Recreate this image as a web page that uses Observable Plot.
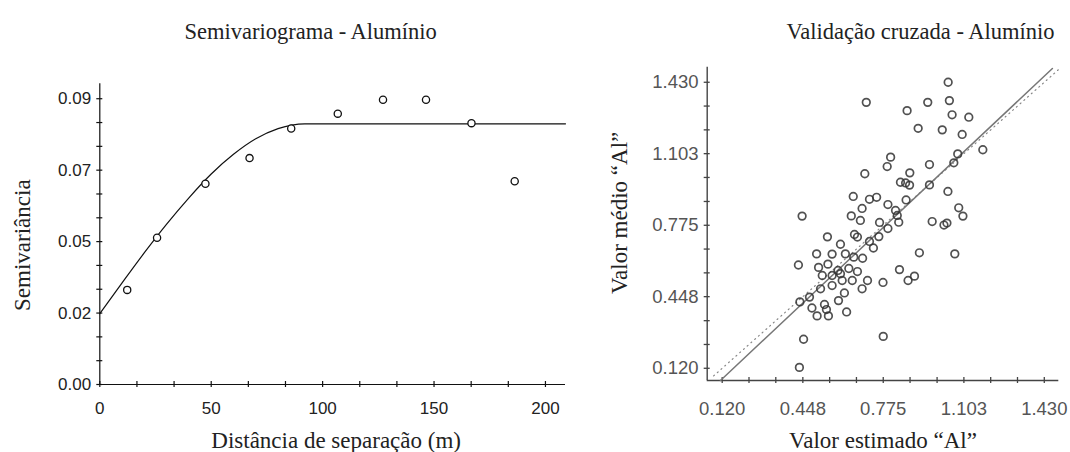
<!DOCTYPE html>
<html>
<head>
<meta charset="utf-8">
<script src="https://cdn.jsdelivr.net/npm/d3@7"></script>
<script src="https://cdn.jsdelivr.net/npm/@observablehq/plot@0.6"></script>
<style>
  html, body { margin: 0; padding: 0; background: #fff; }
  #wrap { position: relative; width: 1070px; height: 452px; background: #fff; overflow: hidden; }
  #left, #right { position: absolute; top: 0; }
  #left { left: 0; }
  #right { left: 600px; }
</style>
</head>
<body>
<div id="wrap"><div id="left"></div><div id="right"></div></div>
<script>
// ---------- Semivariograma (left) ----------
const semiTitle = "Semivariograma - Alumínio";
const semiXTitle = "Distância de separação (m)";
const semiYTitle = "Semivariância";
const semiDist  = [12.3, 25.7, 47.4, 67.2, 85.9, 106.8, 127.1, 146.4, 166.8, 186.2];
const semiGamma = [0.0298, 0.0462, 0.0632, 0.0713, 0.0806, 0.0853, 0.0897, 0.0897, 0.0823, 0.0640];
// fitted model line
const modelDist  = [0, 10, 20, 30, 40, 50, 60, 70, 80, 92, 209];
const modelGamma = [0.0223, 0.0320, 0.0415, 0.0505, 0.0588, 0.0663, 0.0725, 0.0774, 0.0806, 0.0821, 0.0821];
const semiXDomain = [0, 209];
const semiYDomain = [0, 0.0947];
const semiXTicks = [0, 16.667, 33.333, 50, 66.667, 83.333, 100, 116.667, 133.333, 150, 166.667, 183.333, 200];
const semiXLabelTicks = [0, 50, 100, 150, 200];
const semiXLabels = ["0", "50", "100", "150", "200"];
const semiYTicks = [0, 0.0075, 0.015, 0.0225, 0.03, 0.0375, 0.045, 0.0525, 0.06, 0.0675, 0.075, 0.0825, 0.09];
const semiYLabelTicks = [0, 0.0225, 0.045, 0.0675, 0.09];
const semiYLabels = ["0.00", "0.02", "0.05", "0.07", "0.09"];

// ---------- Validação cruzada (right) ----------
const cvTitle = "Validação cruzada - Alumínio";
const cvXTitle = "Valor estimado “Al”";
const cvYTitle = "Valor médio “Al”";
const cvEstimated = [
  0.706, 1.039, 0.956, 1.044, 0.872, 1.055, 1.123, 0.917, 1.015, 1.096,
  1.180, 1.078, 1.062, 0.805, 0.791, 0.963, 0.883, 0.700, 0.845, 0.866,
  0.882, 0.963, 1.038, 0.653, 0.719, 0.748, 0.868, 0.794, 0.689, 0.825,
  0.832, 1.082, 1.099, 0.645, 0.445, 0.682, 0.974, 1.022, 1.034, 0.760,
  0.838, 0.794, 0.757, 0.735, 0.719, 0.658, 0.670, 0.548, 0.601, 0.504,
  0.567, 0.621, 0.655, 0.691, 0.922, 1.066, 0.430, 0.512, 0.550, 0.591,
  0.601, 0.635, 0.670, 0.527, 0.567, 0.608, 0.649, 0.711, 0.774, 0.567,
  0.520, 0.689, 0.617, 0.841, 0.876, 0.902, 0.436, 0.475, 0.593, 0.485,
  0.536, 0.544, 0.552, 0.626, 0.506, 0.451, 0.775, 0.434
];
const cvObserved = [
  1.338, 1.430, 1.338, 1.346, 1.300, 1.281, 1.270, 1.219, 1.212, 1.191,
  1.121, 1.102, 1.061, 1.087, 1.044, 1.053, 1.015, 1.011, 0.972, 0.969,
  0.959, 0.960, 0.930, 0.907, 0.894, 0.903, 0.891, 0.870, 0.852, 0.843,
  0.820, 0.855, 0.817, 0.818, 0.817, 0.797, 0.792, 0.776, 0.785, 0.788,
  0.789, 0.760, 0.723, 0.671, 0.701, 0.733, 0.721, 0.722, 0.688, 0.644,
  0.643, 0.644, 0.629, 0.624, 0.649, 0.644, 0.593, 0.582, 0.597, 0.568,
  0.553, 0.577, 0.563, 0.545, 0.545, 0.522, 0.522, 0.522, 0.513, 0.499,
  0.484, 0.484, 0.465, 0.572, 0.522, 0.542, 0.424, 0.446, 0.430, 0.396,
  0.412, 0.389, 0.360, 0.378, 0.360, 0.253, 0.266, 0.124
];
const regX = [0.113, 1.463];
const regY = [0.064, 1.493];
const oneToOne = [0.085, 1.490];
const cvXDomain = [0.059, 1.489];
const cvYDomain = [0.064, 1.499];
const cvTicks = [0.120, 0.229, 0.338, 0.448, 0.557, 0.666, 0.775, 0.884, 0.994, 1.103, 1.212, 1.321, 1.430];
const cvLabelTicks = [0.120, 0.448, 0.775, 1.103, 1.430];
const cvLabels = ["0.120", "0.448", "0.775", "1.103", "1.430"];

const serif = "'Liberation Serif', 'Times New Roman', serif";
const sans = "'Liberation Sans', Arial, sans-serif";

function labeler(ticks, labels) {
  const m = new Map(ticks.map((t, i) => [t, labels[i]]));
  return d => m.get(d);
}
// tick marks crossing the axis lines (3px each side)
function crossTicks(xTicks, yTicks, xDom, yDom, stroke, sw) {
  return [
    Plot.ruleX(xTicks, {x: d => d, y1: yDom[0], y2: yDom[0], insetTop: -3, insetBottom: -3, stroke, strokeWidth: sw}),
    Plot.ruleY(yTicks, {y: d => d, x1: xDom[0], x2: xDom[0], insetLeft: -3, insetRight: -3, stroke, strokeWidth: sw})
  ];
}

const semiPts = semiDist.map((d, i) => ({d, g: semiGamma[i]}));
const modelPts = modelDist.map((d, i) => ({d, g: modelGamma[i]}));

const left = Plot.plot({
  width: 600, height: 452,
  marginLeft: 99.3, marginRight: 35, marginTop: 83.3, marginBottom: 68,
  x: {domain: semiXDomain},
  y: {domain: semiYDomain},
  style: {fontFamily: sans, fontSize: "17px", color: "#222", background: "transparent", overflow: "visible"},
  marks: [
    Plot.ruleX([semiXDomain[0]], {stroke: "#111", strokeWidth: 1.2}),
    Plot.ruleY([semiYDomain[0]], {stroke: "#111", strokeWidth: 1.2}),
    ...crossTicks(semiXTicks, semiYTicks, semiXDomain, semiYDomain, "#111", 1.2),
    Plot.axisX(semiXLabelTicks, {tickSize: 0, tickPadding: 17, tickFormat: labeler(semiXLabelTicks, semiXLabels), fill: "#222", label: null}),
    Plot.axisY(semiYLabelTicks, {tickSize: 0, tickPadding: 8.6, tickFormat: labeler(semiYLabelTicks, semiYLabels), fill: "#222", label: null}),
    Plot.line(modelPts, {x: "d", y: "g", curve: "monotone-x", stroke: "#111", strokeWidth: 1.2}),
    Plot.dot(semiPts, {x: "d", y: "g", r: 3.6, stroke: "#111", strokeWidth: 1.3, fill: "white"}),
    Plot.text([semiTitle], {frameAnchor: "top", textAnchor: "middle", lineAnchor: "middle", dx: -22, dy: -52, fontFamily: serif, fontSize: 22.5, fill: "#222"}),
    Plot.text([semiXTitle], {frameAnchor: "bottom", textAnchor: "middle", lineAnchor: "middle", dx: 3.5, dy: 56, fontFamily: serif, fontSize: 23, fill: "#222"}),
    Plot.text([semiYTitle], {frameAnchor: "left", textAnchor: "middle", lineAnchor: "middle", rotate: -90, dx: -77, dy: 11, fontFamily: serif, fontSize: 23, fill: "#222"})
  ]
});
document.getElementById("left").append(left);

const cvPts = cvEstimated.map((e, i) => ({e, o: cvObserved[i]}));
const regPts = regX.map((x, i) => ({x, y: regY[i]}));
const idPts = oneToOne.map(v => ({x: v, y: v}));

const right = Plot.plot({
  width: 470, height: 452,
  marginLeft: 106.7, marginRight: 11.7, marginTop: 66.7, marginBottom: 72,
  x: {domain: cvXDomain},
  y: {domain: cvYDomain},
  style: {fontFamily: sans, fontSize: "18.5px", color: "#555", background: "transparent", overflow: "visible"},
  marks: [
    Plot.ruleX([cvXDomain[0]], {stroke: "#444", strokeWidth: 1.4}),
    Plot.ruleY([cvYDomain[0]], {stroke: "#444", strokeWidth: 1.4}),
    ...crossTicks(cvTicks, cvTicks, cvXDomain, cvYDomain, "#444", 1.3),
    Plot.axisX(cvLabelTicks, {tickSize: 0, tickPadding: 21.7, tickFormat: labeler(cvLabelTicks, cvLabels), fill: "#555", label: null}),
    Plot.axisY(cvLabelTicks, {tickSize: 0, tickPadding: 8.6, tickFormat: labeler(cvLabelTicks, cvLabels), fill: "#555", label: null}),
    Plot.line(idPts, {x: "x", y: "y", stroke: "#888", strokeWidth: 1.2, strokeDasharray: "1,4"}),
    Plot.line(regPts, {x: "x", y: "y", stroke: "#777", strokeWidth: 1.5}),
    Plot.dot(cvPts, {x: "e", y: "o", r: 3.8, stroke: "#333", strokeWidth: 1.7, fill: "none", strokeOpacity: 0.85}),
    Plot.text([cvTitle], {frameAnchor: "top", textAnchor: "middle", lineAnchor: "middle", dx: 37.5, dy: -35.7, fontFamily: serif, fontSize: 22.5, fill: "#222"}),
    Plot.text([cvXTitle], {frameAnchor: "bottom", textAnchor: "middle", lineAnchor: "middle", dx: 0, dy: 60, fontFamily: serif, fontSize: 23, fill: "#222"}),
    Plot.text([cvYTitle], {frameAnchor: "left", textAnchor: "middle", lineAnchor: "middle", rotate: -90, dx: -88, dy: -11, fontFamily: serif, fontSize: 23, fill: "#222"})
  ]
});
document.getElementById("right").append(right);
</script>
</body>
</html>
